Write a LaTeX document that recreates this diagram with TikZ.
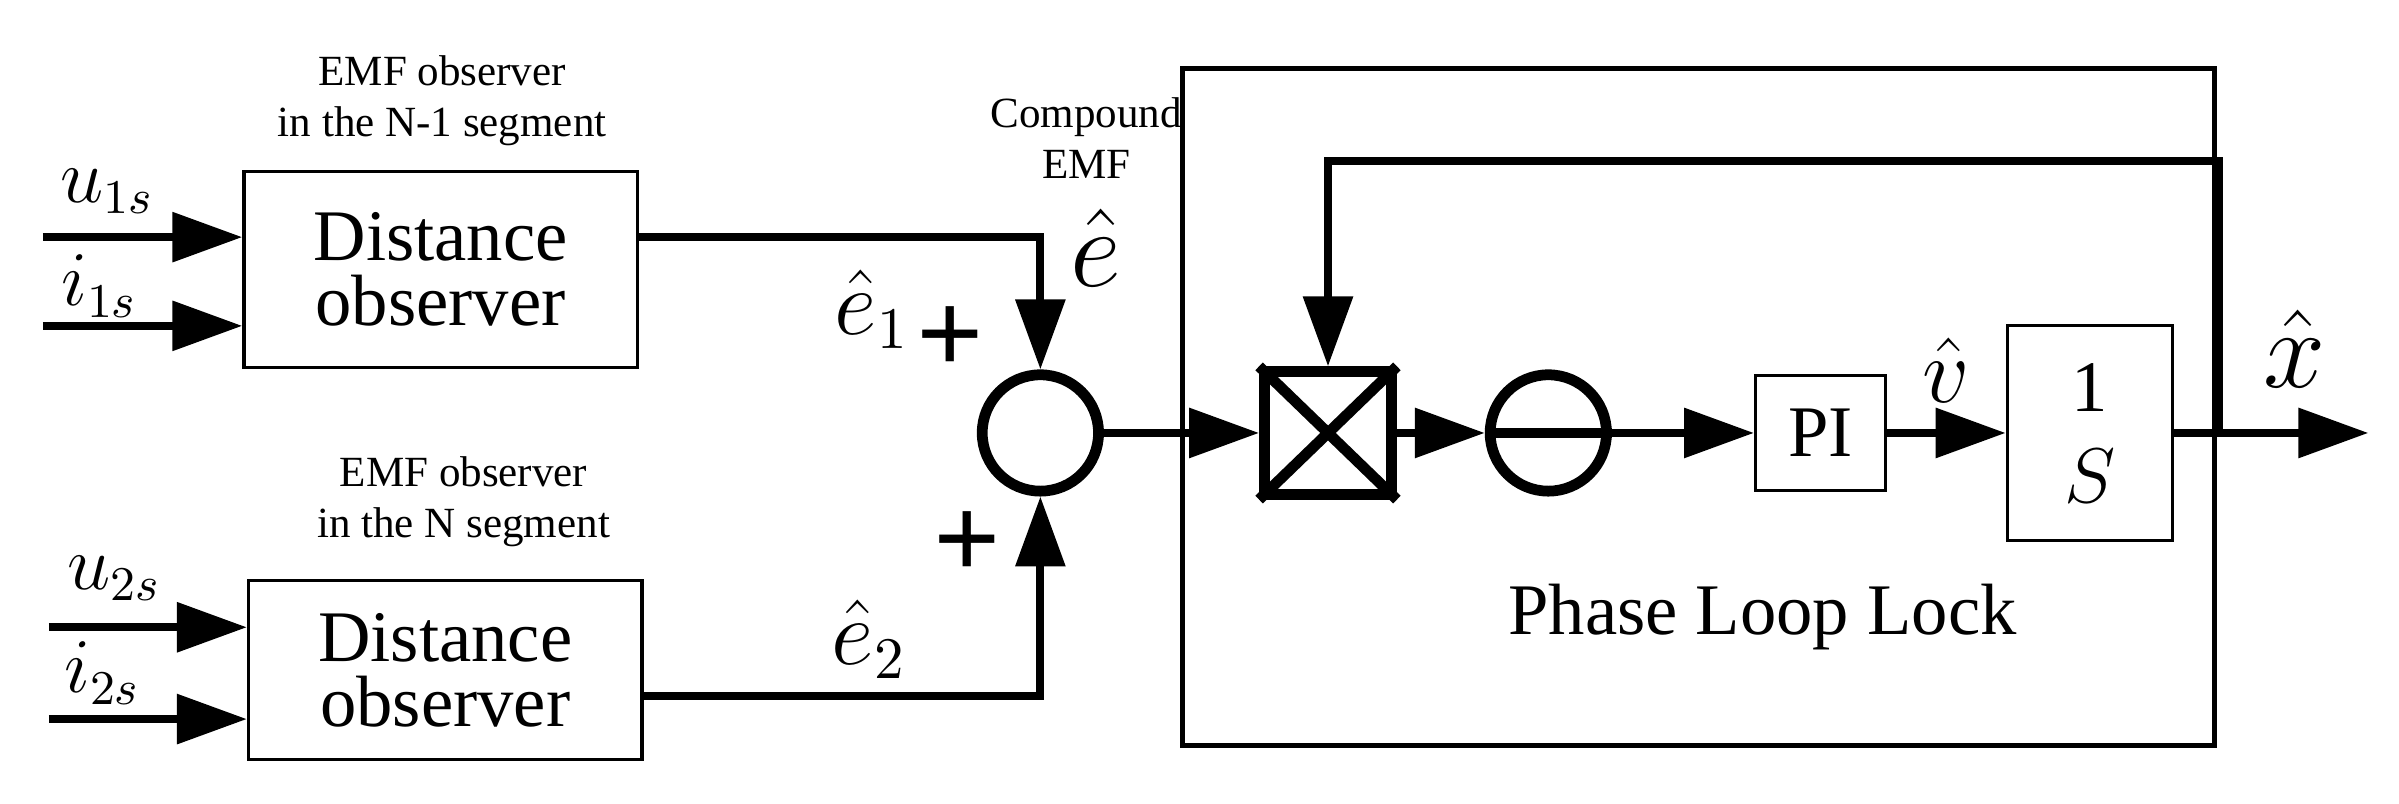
\documentclass[tikz,border=0pt]{standalone}
\usepackage{fontspec}
\setmainfont{Liberation Serif}
\usetikzlibrary{arrows.meta}
\begin{document}
\begin{tikzpicture}[x=0.01cm,y=-0.01cm,
  line width=1.5pt,
  arr/.style={-{Triangle[length=13pt,width=9pt]}},
  blk/.style={draw,line width=0.6pt,inner sep=0pt},
  big/.style={font=\fontsize{13.5}{15}\selectfont},
  sml/.style={font=\fontsize{8}{9.5}\selectfont,align=center}]
\useasboundingbox (0,0) rectangle (1568,525);
% observers
\node[blk,minimum width=2.57cm,minimum height=1.28cm,big,align=center] (d1) at (288,176) {Distance\\[-3pt]observer};
\node[blk,minimum width=2.57cm,minimum height=1.17cm,big,align=center] (d2) at (291,438) {Distance\\[-3pt]observer};
\node[sml] (l1) at (289,66) {EMF observer\\in the N-1 segment};
\node[sml] (l2) at (303,328) {EMF observer\\in the N segment};
\coordinate (u1) at (28,155); \coordinate (i1) at (28,213);
\coordinate (u2) at (32,410); \coordinate (i2) at (32,470);
\draw[arr] (u1) -- (u1-|d1.west);
\draw[arr] (i1) -- (i1-|d1.west);
\draw[arr] (u2) -- (u2-|d2.west);
\draw[arr] (i2) -- (i2-|d2.west);
\node[big] (tu1) at (70,125) {$u_{1s}$};
\node[big] (ti1) at (65,187) {$i_{1s}$};
\node[big] (tu2) at (75,378) {$u_{2s}$};
\node[big] (ti2) at (67,440) {$i_{2s}$};
% sum
\node[draw,circle,minimum size=0.76cm,inner sep=0pt,line width=2pt] (s) at (680,283) {};
\draw[arr] (d1.east|-0,155) -| (s.north);
\draw[arr] (d2.east|-0,455) -| (s.south);
\node[font=\fontsize{16}{16}\selectfont] (e1) at (570,202) {$\hat e_1$};
\node[font=\fontsize{22}{22}\selectfont\bfseries] (p1) at (621,222) {+};
\node[font=\fontsize{16}{16}\selectfont] (e2) at (568,418) {$\hat e_2$};
\node[font=\fontsize{22}{22}\selectfont\bfseries] (p2) at (632,356) {+};
\node[sml] (ce) at (710,90) {Compound\\EMF};
\node[font=\fontsize{20}{20}\selectfont] (eh) at (716,162) {$\hat e$};
% PLL
\node[draw,line width=0.9pt,minimum width=6.74cm,minimum height=4.42cm] (pll) at (1110,266) {};
\node[draw,line width=2pt,minimum width=0.83cm,minimum height=0.8cm,inner sep=0pt] (m) at (868,283) {};
\draw[line width=2pt] (m.north west)--(m.south east) (m.north east)--(m.south west);
\node[draw,circle,minimum size=0.76cm,inner sep=0pt,line width=2pt] (c2) at (1012,283) {};
\draw[line width=2pt] (c2.west)--(c2.east);
\node[blk,minimum width=0.85cm,minimum height=0.75cm,big] (pi) at (1190,283) {PI};
\node[blk,minimum width=1.08cm,minimum height=1.4cm,big,align=center] (is) at (1366,283) {1\\[2pt]$S$};
\draw[arr] (s.east) -- (m.west);
\draw[arr] (m.east) -- (c2.west);
\draw[arr] (c2.east) -- (pi.west);
\draw[arr] (pi.east) -- (is.west);
\coordinate (o) at (1548,283);
\draw[arr] (is.east) -- (o);
\coordinate (fb) at (1450,283);
\draw[arr] (fb) -- (1450,105) -| (m.north);
\node[font=\fontsize{16}{16}\selectfont] (vh) at (1272,242) {$\hat v$};
\node[font=\fontsize{22}{22}\selectfont] (xh) at (1500,228) {$\hat x$};
\node[big] (pl) at (1152,403) {Phase Loop Lock};
\end{tikzpicture}
\end{document}
